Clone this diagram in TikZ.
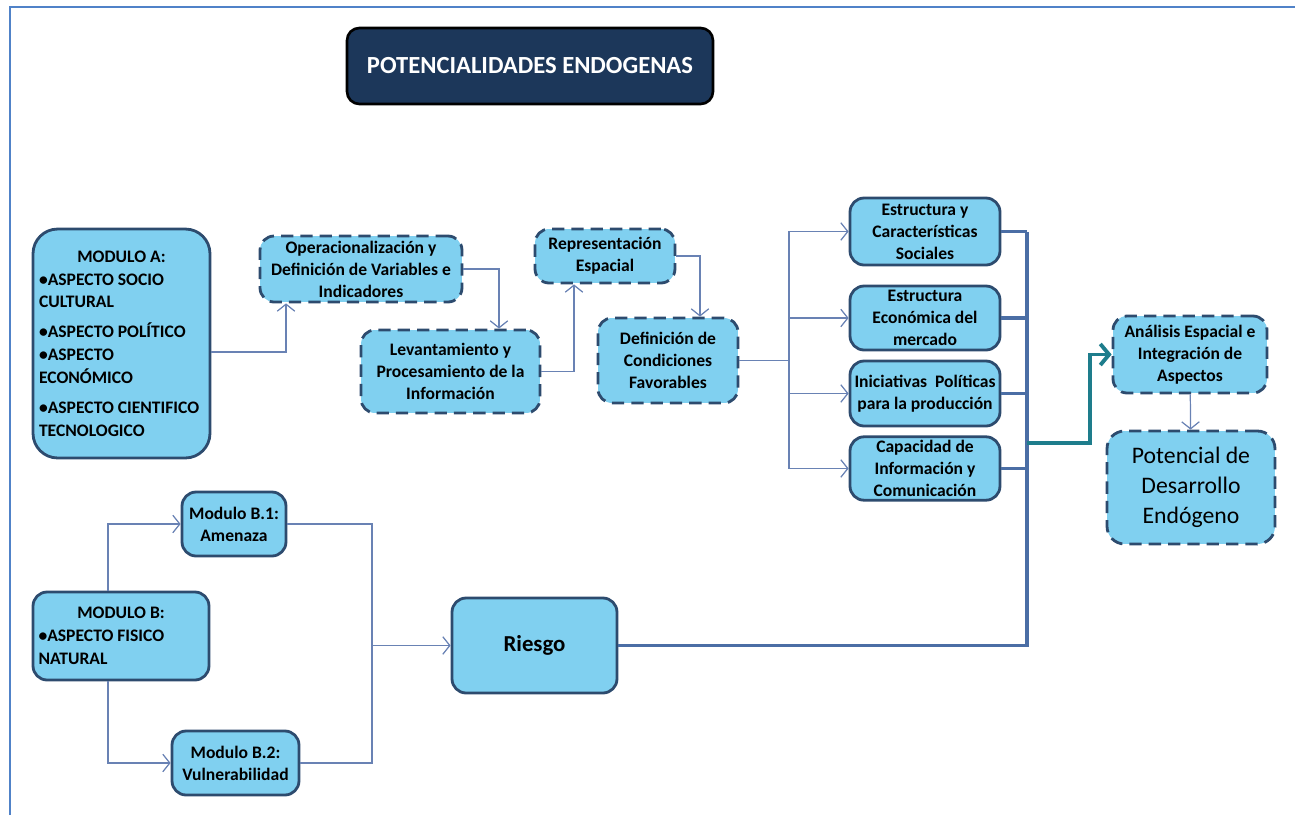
\documentclass[tikz,border=0pt]{standalone}
\usepackage{fontspec}
\setmainfont{Carlito}
\usetikzlibrary{arrows.meta}

\definecolor{boxfill}{RGB}{128,208,240}
\definecolor{boxline}{RGB}{45,75,110}
\definecolor{titlefill}{RGB}{28,55,90}
\definecolor{linkcol}{RGB}{105,130,180}
\definecolor{buscol}{RGB}{75,110,165}
\definecolor{tealcol}{RGB}{30,125,140}
\definecolor{framecol}{RGB}{80,130,200}

\begin{document}
\begin{tikzpicture}[x=0.02cm, y=-0.02cm,
    box/.style = {draw=boxline, fill=boxfill, line width=1.6pt, rounded corners=8pt,
                  align=flush center, inner sep=2pt, font=\bfseries\fontsize{10}{12.5}\selectfont},
    modbox/.style = {box},
    dbox/.style = {box, dash pattern=on 7pt off 4pt},
    link/.style = {draw=linkcol, line width=0.7pt, -{Straight Barb[length=4pt,width=10pt]}},
    thinlink/.style = {draw=linkcol, line width=0.6pt},
    busline/.style = {draw=buscol, line width=1.8pt},
    mainlink/.style = {draw=tealcol, line width=2.2pt, -{Straight Barb[length=5pt,width=12pt]}}]

    \useasboundingbox (0,0) rectangle (1295,815);
    \draw[framecol, line width=1.5pt] (10,815) -- (10,7) -- (1295,7);

    % titulo
    \node[draw=black, fill=titlefill, line width=1.5pt, rounded corners=7pt,
          minimum width=7.32cm, minimum height=1.52cm, text=white,
          font=\bfseries\fontsize{14}{16}\selectfont] (title) at (530,66) {POTENCIALIDADES ENDOGENAS};

    % modulo A
    \node[modbox, rounded corners=14pt, minimum width=3.54cm, minimum height=4.58cm, text width=3.3cm,
          align=flush left, font=\bfseries\fontsize{10}{13}\selectfont] (modA) at (121.5,343.5)
        {\makebox[3.3cm]{MODULO A:}\\•ASPECTO SOCIO\\CULTURAL\\[4pt]•ASPECTO POLÍTICO\\•ASPECTO\\ECONÓMICO\\[4pt]•ASPECTO CIENTIFICO\\TECNOLOGICO\\[6pt]};

    \node[dbox, minimum width=4.04cm, minimum height=1.32cm] (oper) at (361,269)
        {Operacionalización y\\Definición de Variables e\\Indicadores};
    \node[dbox, minimum width=3.58cm, minimum height=1.66cm] (lev) at (450.5,371.5)
        {Levantamiento y\\Procesamiento de la\\Información};
    \node[dbox, minimum width=2.8cm, minimum height=1.08cm] (rep) at (605,256)
        {Representación\\Espacial};
    \node[dbox, minimum width=2.8cm, minimum height=1.7cm] (defc) at (668,360.5)
        {Definición de\\Condiciones\\Favorables};

    % aspectos
    \node[box, minimum width=3cm, minimum height=1.34cm] (est1) at (925,231.5)
        {Estructura y\\Características\\Sociales};
    \node[box, minimum width=3cm, minimum height=1.28cm] (est2) at (925,318)
        {Estructura\\Económica del\\mercado};
    \node[box, minimum width=3cm, minimum height=1.3cm] (inic) at (925,393.5)
        {Iniciativas\ \ Políticas\\para la producción};
    \node[box, minimum width=3cm, minimum height=1.26cm] (capa) at (925,468.5)
        {Capacidad de\\Información y\\Comunicación};

    \node[dbox, minimum width=3.08cm, minimum height=1.54cm] (anal) at (1190,354.5)
        {Análisis Espacial e\\Integración de\\Aspectos};
    \node[dbox, rounded corners=10pt, minimum width=3.36cm, minimum height=2.26cm,
          font=\fontsize{13.5}{17}\selectfont] (pot) at (1191,487.5)
        {Potencial de\\Desarrollo\\Endógeno};

    % modulo B
    \node[modbox, minimum width=3.52cm, minimum height=1.76cm, text width=3.3cm,
          align=flush left, font=\bfseries\fontsize{10}{13}\selectfont] (modB) at (121,636)
        {\makebox[3.3cm]{MODULO B:}\\•ASPECTO FISICO\\NATURAL};
    \node[modbox, minimum width=2.08cm, minimum height=1.28cm] (b1) at (234,524)
        {Modulo B.1:\\Amenaza};
    \node[modbox, minimum width=2.54cm, minimum height=1.28cm] (b2) at (235.5,763)
        {Modulo B.2:\\Vulnerabilidad};
    \node[modbox, minimum width=3.3cm, minimum height=1.9cm,
          font=\bfseries\fontsize{13}{15}\selectfont] (riesgo) at (534.5,645.5) {Riesgo};

    % conexiones
    \draw[link] (modA.east |- 0,352) -| ([xshift=-1.5cm]oper.south);
    \draw[link] (oper.east) -| ([xshift=0.97cm]lev.north);
    \draw[link] (lev.east) -| ([xshift=-0.62cm]rep.south);
    \draw[link] (rep.east) -| ([xshift=0.64cm]defc.north);

    \coordinate (split) at (789,360.5);
    \draw[thinlink] (defc.east) -- (split);
    \foreach \b in {est1,est2,inic,capa}{
        \draw[link] (split) |- (\b.west);
    }

    \coordinate (bustop) at (1027,231.5);
    \coordinate (tap) at (1027,443);
    \draw[busline] (riesgo.east) -| (bustop);
    \foreach \b in {est1,est2,inic,capa}{
        \draw[busline] (\b.east) -- (\b.east -| bustop);
    }
    \draw[mainlink] (tap) -- ++(63,0) |- (anal.west);
    \draw[link] (anal) -- (pot);

    \draw[link] ([xshift=-0.26cm]modB.north) |- (b1.west);
    \draw[link] ([xshift=-0.26cm]modB.south) |- (b2.west);
    \coordinate (merge) at (372,645.5);
    \draw[thinlink] (b1.east) -| (merge);
    \draw[thinlink] (b2.east) -| (merge);
    \draw[link] (merge) -- (riesgo.west);
\end{tikzpicture}
\end{document}
